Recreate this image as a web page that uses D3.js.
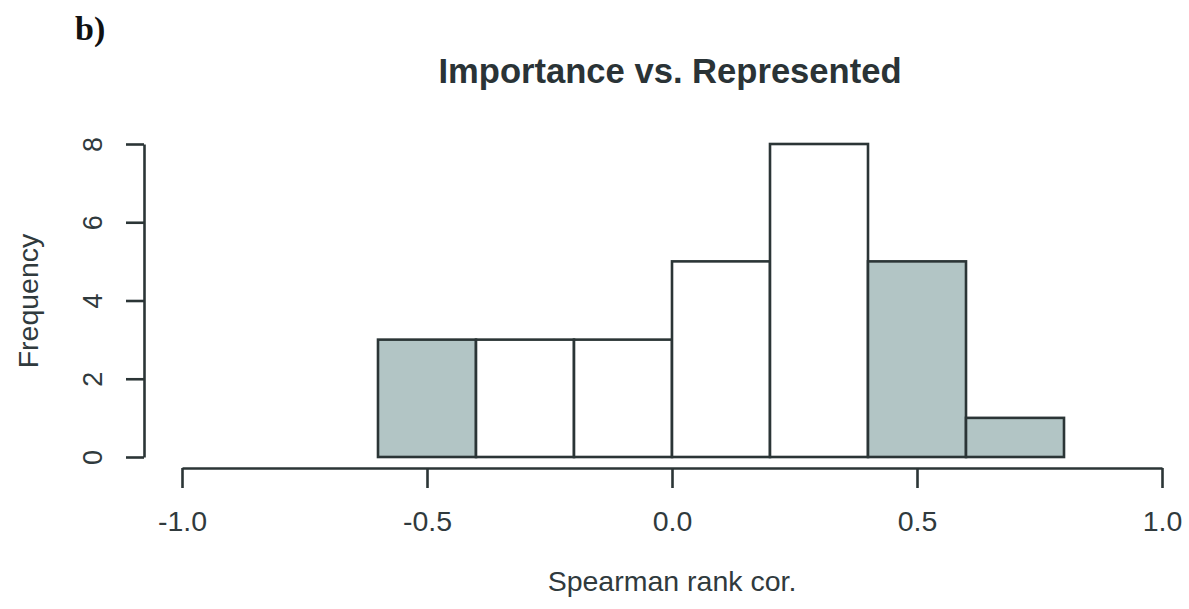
<!DOCTYPE html>
<html>
<head>
<meta charset="utf-8">
<script src="https://cdn.jsdelivr.net/npm/d3@7"></script>
<style>
  html, body { margin: 0; padding: 0; background: #fff; }
  svg { display: block; }
</style>
</head>
<body>
<svg id="chart" width="1189" height="609"></svg>
<script>
// Histogram of Spearman rank correlations
const binStarts = [-0.6, -0.4, -0.2, 0.0, 0.2, 0.4, 0.6];
const binWidth = 0.2;
const counts = [3, 3, 3, 5, 8, 5, 1];
const highlighted = [true, false, false, false, false, true, true];
const xTicks = [-1.0, -0.5, 0.0, 0.5, 1.0];
const yTicks = [0, 2, 4, 6, 8];

const svg = d3.select("#chart");
const ink = "#2b3536";
const textInk = "#303a3d";
const fillHi = "#b2c5c5";
const sans = "'Liberation Sans', Arial, sans-serif";

const x = d3.scaleLinear().domain([-1, 1]).range([182, 1162]);
const y = d3.scaleLinear().domain([0, 8]).range([457, 144]);

// bars
svg.append("g").selectAll("rect")
  .data(counts.map((c, i) => ({ x0: binStarts[i], x1: binStarts[i] + binWidth, c, hi: highlighted[i] })))
  .join("rect")
  .attr("x", d => x(d.x0))
  .attr("y", d => y(d.c))
  .attr("width", d => x(d.x1) - x(d.x0))
  .attr("height", d => y(0) - y(d.c))
  .attr("fill", d => d.hi ? fillHi : "#ffffff")
  .attr("stroke", ink)
  .attr("stroke-width", 2.6);

// x axis
const xAxis = svg.append("g")
  .attr("transform", "translate(0,468)")
  .call(d3.axisBottom(x).tickValues(xTicks).tickSize(20).tickSizeOuter(0));
xAxis.select(".domain").attr("stroke", ink).attr("stroke-width", 2.6);
xAxis.selectAll(".tick line").attr("stroke", ink).attr("stroke-width", 2.6);
xAxis.selectAll(".tick text")
  .style("font-family", sans)
  .attr("fill", textInk)
  .attr("font-size", 28.5)
  .attr("dy", 0)
  .attr("y", 63)
  .text(d => d.toFixed(1));

// y axis
const yAxis = svg.append("g")
  .attr("transform", "translate(144,0)")
  .call(d3.axisLeft(y).tickValues(yTicks).tickSize(18).tickSizeOuter(0));
yAxis.select(".domain").attr("stroke", ink).attr("stroke-width", 2.6);
yAxis.selectAll(".tick line").attr("stroke", ink).attr("stroke-width", 2.6);
yAxis.selectAll(".tick text")
  .style("font-family", sans)
  .attr("fill", textInk)
  .attr("font-size", 27)
  .attr("x", null).attr("dy", null)
  .attr("text-anchor", "middle")
  .attr("transform", "translate(-42,0) rotate(-90)")
  .attr("y", 0);

// axis titles
svg.append("text")
  .style("font-family", sans)
  .attr("x", 672).attr("y", 591)
  .attr("text-anchor", "middle")
  .attr("font-size", 28.5)
  .attr("fill", textInk)
  .text("Spearman rank cor.");

svg.append("text")
  .style("font-family", sans)
  .attr("transform", "translate(38,301) rotate(-90)")
  .attr("text-anchor", "middle")
  .attr("font-size", 28.5)
  .attr("fill", textInk)
  .text("Frequency");

// main title
svg.append("text")
  .style("font-family", sans)
  .attr("x", 670).attr("y", 83)
  .attr("text-anchor", "middle")
  .attr("font-size", 34.6)
  .attr("font-weight", "bold")
  .attr("fill", "#2a3336")
  .text("Importance vs. Represented");

// panel label
svg.append("text")
  .style("font-family", "'Liberation Serif', 'Times New Roman', serif")
  .attr("x", 75).attr("y", 40)
  .attr("font-size", 34)
  .attr("font-weight", "bold")
  .attr("fill", "#111")
  .text("b)");
</script>
</body>
</html>
